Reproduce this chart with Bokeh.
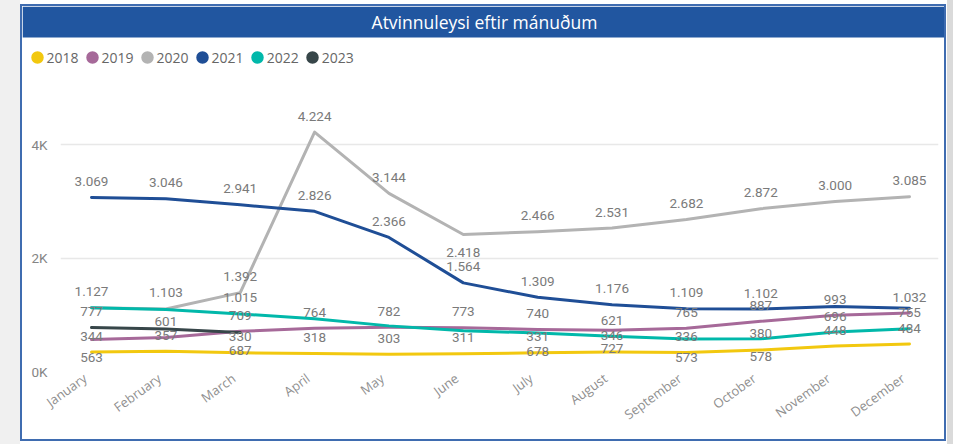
import math
from bokeh.plotting import figure
from bokeh.layouts import row, column
from bokeh.models import (ColumnDataSource, FixedTicker, Legend, LegendItem, LinearAxis,
                          BoxAnnotation, Label, LabelSet, Range1d, Spacer)
from bokeh.core.properties import value
from bokeh.embed import file_html
from bokeh.resources import INLINE

# ---------------- data ----------------
months = ["January", "February", "March", "April", "May", "June", "July",
          "August", "September", "October", "November", "December"]
years = ["2018", "2019", "2020", "2021", "2022", "2023"]

unemployed_2018 = [344, 357, 330, 318, 303, 311, 331, 346, 336, 380, 448, 484]
unemployed_2019 = [563, 601, 709, 764, 782, 773, 740, 727, 765, 887, 993, 1032]
unemployed_2020 = [1125, 1103, 1392, 4224, 3144, 2418, 2466, 2531, 2682, 2872, 3000, 3085]
unemployed_2021 = [3069, 3046, 2941, 2826, 2366, 1564, 1309, 1176, 1109, 1102, 1145, 1118]
unemployed_2022 = [1127, 1095, 1015, 930, 805, 720, 678, 621, 573, 578, 696, 755]
unemployed_2023 = [777, 752, 687]

y_ticks = [0, 2000, 4000]
y_tick_labels = ["0K", "2K", "4K"]

title_text = "Atvinnuleysi eftir mánuðum"

series = {"2018": unemployed_2018, "2019": unemployed_2019, "2020": unemployed_2020,
          "2021": unemployed_2021, "2022": unemployed_2022, "2023": unemployed_2023}

# data labels hidden by Power BI's overlap handling / placed under the point
label_hidden = {"2020": ["January"], "2021": ["November", "December"],
                "2022": ["February", "April", "May", "June"], "2023": ["February"]}
label_below = {"2019": ["January", "August"], "2020": ["June"],
               "2022": ["July", "September", "October"], "2023": ["March"]}

# ---------------- style ----------------
colors = {"2018": "#F2C80F", "2019": "#A66999", "2020": "#B3B3B3",
          "2021": "#1F4E96", "2022": "#01B8AA", "2023": "#374649"}
TITLE_BLUE = "#2156A0"
BORDER_BLUE = "#3f6cb0"
LABEL_GRAY = "#7a7a7a"

VIS_W = 922            # inner width of the visual
HEAD_H = 74            # title bar + legend strip
MAIN_H = 359           # chart area
B_LEFT, B_RIGHT, B_BOTTOM = 38, 6, 68
FRAME_H = MAIN_H - B_BOTTOM
UNITS_PER_PX = 4000 / 226.7
X_START, X_END = -0.417, 11.39
LABEL_SHIFT = 6.5 / 74.36   # rotated month labels sit slightly left of their point
NAN = float("nan")

# ---------------- header: title bar + legend ----------------
head = figure(width=VIS_W, height=HEAD_H, output_backend="svg", toolbar_location=None,
              x_axis_type=None, y_axis_type=None, title=None,
              x_range=Range1d(0, 1), y_range=Range1d(0, 1),
              min_border=0, min_border_left=0, min_border_right=0,
              min_border_top=0, min_border_bottom=0)
head.frame_align = False
head.outline_line_color = None
head.grid.visible = False
head.background_fill_color = "white"
head.border_fill_color = "white"

head.add_layout(BoxAnnotation(left=0, right=VIS_W, top=HEAD_H, bottom=HEAD_H - 31,
                              left_units="screen", right_units="screen",
                              top_units="screen", bottom_units="screen",
                              fill_color=TITLE_BLUE, fill_alpha=1, line_alpha=0))
head.add_layout(Label(x=462, y=HEAD_H - 15, x_units="screen", y_units="screen",
                      text=title_text, text_align="center", text_baseline="middle",
                      text_color="white", text_font="Open Sans", text_font_size="17.5px"))

legend_items = []
for yr in years:
    # legend swatch only: no visible mark (NaN position)
    dot = head.scatter(x=[NAN], y=[NAN], marker="circle", size=8, fill_color=colors[yr],
                       line_color=colors[yr], line_width=4.5)
    legend_items.append(LegendItem(label=yr, renderers=[dot]))
legend = Legend(items=legend_items, orientation="horizontal", location=(4.5, 13),
                glyph_width=20, glyph_height=20, label_standoff=0, spacing=3,
                padding=0, margin=0, border_line_alpha=0, background_fill_alpha=0,
                inactive_fill_alpha=0,
                label_text_font="Open Sans", label_text_font_size="14px",
                label_text_color="#666666", label_height=20)
head.add_layout(legend)

# ---------------- main chart ----------------
p = figure(width=VIS_W, height=MAIN_H, output_backend="svg", toolbar_location=None,
           title=None, x_axis_type=None,
           x_range=Range1d(X_START, X_END), y_range=Range1d(0, FRAME_H * UNITS_PER_PX),
           min_border_left=B_LEFT, min_border_right=B_RIGHT,
           min_border_top=0, min_border_bottom=B_BOTTOM)
p.frame_align = False
p.outline_line_color = None
p.background_fill_color = "white"
p.border_fill_color = "white"
p.extra_x_ranges = {"labels": Range1d(X_START + LABEL_SHIFT, X_END + LABEL_SHIFT)}

xaxis = LinearAxis(x_range_name="labels",
                   ticker=FixedTicker(ticks=list(range(len(months)))),
                   major_label_overrides={i: m for i, m in enumerate(months)},
                   major_label_orientation=math.radians(36),
                   axis_line_color=None, major_tick_line_color=None,
                   minor_tick_line_color=None, major_tick_out=0, major_tick_in=0,
                   major_label_standoff=5, major_label_text_font="Open Sans",
                   major_label_text_font_size="13px", major_label_text_color="#8f8f8f")
p.add_layout(xaxis, "below")

p.yaxis.ticker = FixedTicker(ticks=y_ticks)
p.yaxis.major_label_overrides = {t: l for t, l in zip(y_ticks, y_tick_labels)}
p.yaxis.axis_line_color = None
p.yaxis.major_tick_line_color = None
p.yaxis.minor_tick_line_color = None
p.yaxis.major_tick_out = 0
p.yaxis.major_tick_in = 0
p.yaxis.major_label_standoff = 13
p.yaxis.major_label_text_font = "Roboto"
p.yaxis.major_label_text_font_size = "13.5px"
p.yaxis.major_label_text_color = "#858585"

p.xgrid.grid_line_color = None
p.ygrid.grid_line_color = "#e8e8e8"
p.ygrid.grid_line_width = 1.5

for yr in years:
    vals = series[yr]
    p.line(list(range(len(vals))), vals, line_color=colors[yr], line_width=3,
           line_join="round", line_cap="round")

lx, ly, lt, lo = [], [], [], []
for yr in years:
    for i, v in enumerate(series[yr]):
        m = months[i]
        if m in label_hidden.get(yr, []):
            continue
        lx.append(i)
        ly.append(v)
        lt.append(f"{v:,}".replace(",", "."))
        lo.append(-18 if m in label_below.get(yr, []) else 16)
lsrc = ColumnDataSource(dict(x=lx, y=ly, text=lt, off=lo))
p.add_layout(LabelSet(x="x", y="y", text="text", y_offset="off", source=lsrc,
                      text_align="center", text_baseline="middle",
                      text_font=value("Roboto"), text_font_size="13.5px",
                      text_color=LABEL_GRAY))

# ---------------- page layout (Power BI visual frame) ----------------
visual = column(head, p, spacing=0,
                styles={"outline": f"2px solid {BORDER_BLUE}"})
left_strip = Spacer(width=20, height=444, styles={"background-color": "#f0f0f0"})
gap_l = Spacer(width=2, height=10)
gap_r = Spacer(width=3, height=10)
right_shadow = Spacer(width=6, height=444, styles={"background-color": "#dadada"})
root = row(left_strip, gap_l, column(Spacer(width=10, height=6), visual, spacing=0),
           gap_r, right_shadow, spacing=0)

open("out.html", "w").write(file_html(root, INLINE))
